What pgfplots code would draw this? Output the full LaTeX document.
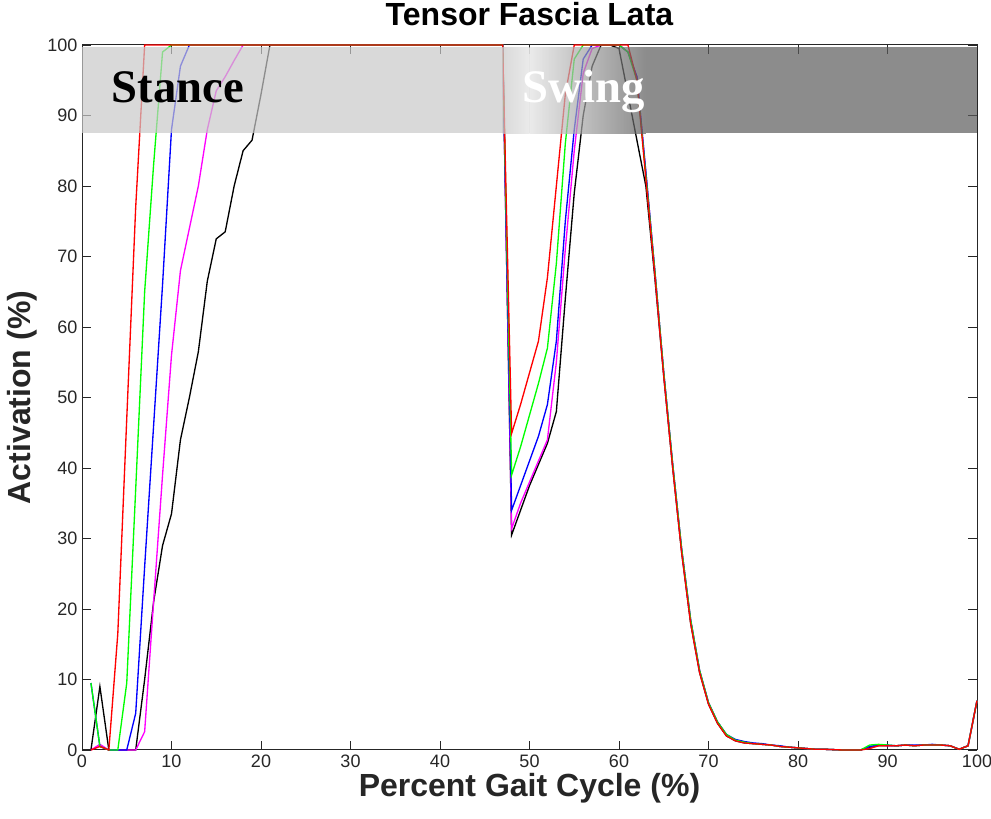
\documentclass[border=0pt]{standalone}
\usepackage{pgfplots}
\pgfplotsset{compat=1.18}
\usepackage{pgfplotstable}
\usepackage{fontspec}
\setmainfont{Liberation Sans}
\newfontfamily\timesfont{Liberation Serif}

% activation per series: red, green, blue, magenta, black
\pgfplotstableread{
x   r     g     b     m     k
1   0     9.5   9.5   0     0
2   0.5   0.5   0.5   0.8   9
3   0     0     0     0     0
4   16.5  0     0     0     0
5   47    9.5   0     0     0
6   77    37    5.2   0     0
7   100   65    26    2.6   10
8   100   83    46    21    21
9   100   99    66    39    29
10  100   100   88    56    33.5
11  100   100   97    68    44
12  100   100   100   74    50
13  100   100   100   80    56.5
14  100   100   100   88    66.5
15  100   100   100   93.5  72.5
16  100   100   100   95.5  73.5
17  100   100   100   97.8  80
18  100   100   100   100   85
19  100   100   100   100   86.5
20  100   100   100   100   93
21  100   100   100   100   100
22  100   100   100   100   100
23  100   100   100   100   100
24  100   100   100   100   100
25  100   100   100   100   100
26  100   100   100   100   100
27  100   100   100   100   100
28  100   100   100   100   100
29  100   100   100   100   100
30  100   100   100   100   100
31  100   100   100   100   100
32  100   100   100   100   100
33  100   100   100   100   100
34  100   100   100   100   100
35  100   100   100   100   100
36  100   100   100   100   100
37  100   100   100   100   100
38  100   100   100   100   100
39  100   100   100   100   100
40  100   100   100   100   100
41  100   100   100   100   100
42  100   100   100   100   100
43  100   100   100   100   100
44  100   100   100   100   100
45  100   100   100   100   100
46  100   100   100   100   100
47  100   100   100   100   100
48  44.9  39    34    31.4  30.5
49  49    43    37.5  35    34
50  53.5  47.5  41    38    37.5
51  58    52    44.5  41    40.5
52  67    57    49    44    43.5
53  80    69    58    55    48
54  93    86    75    71    64
55  100   98    88    85    79
56  100   100   98    96    90
57  100   100   100   99.5  97
58  100   100   100   100   100
59  100   100   100   100   100
60  100   100   100   100   99.5
61  100   99    99    99    93
62  95    95    95.5  95.5  86.5
63  81    81.5  82    82    80
64  67.5  68    68    68    67
65  53    53.5  53.5  53.5  53
66  40    40.5  40.5  40.5  40
67  28    28.5  28.5  28.5  28
68  18    18.5  18.5  18.5  18
69  11    11.3  11.3  11.3  11
70  6.5   6.7   6.7   6.7   6.5
71  3.8   4     4     4     3.8
72  2     2.2   2.2   2.2   2
73  1.3   1.4   1.5   1.4   1.3
74  1     1.1   1.2   1.1   1
75  0.9   0.9   1     0.9   0.9
76  0.8   0.8   0.9   0.8   0.8
77  0.7   0.7   0.7   0.7   0.7
78  0.5   0.5   0.6   0.5   0.5
79  0.4   0.4   0.4   0.4   0.4
80  0.3   0.3   0.3   0.3   0.3
81  0.2   0.2   0.2   0.2   0.2
82  0.1   0.1   0.1   0.1   0.1
83  0.1   0.1   0.1   0.1   0.1
84  0.05  0.05  0.05  0.05  0.05
85  0     0     0     0     0
86  0     0     0     0     0
87  0     0     0     0     0
88  0.2   0.7   0.5   0.5   0.4
89  0.6   0.8   0.7   0.7   0.6
90  0.6   0.7   0.7   0.6   0.6
91  0.6   0.6   0.6   0.6   0.6
92  0.7   0.7   0.7   0.7   0.7
93  0.6   0.6   0.7   0.6   0.6
94  0.7   0.7   0.7   0.7   0.7
95  0.7   0.7   0.8   0.7   0.7
96  0.7   0.7   0.7   0.7   0.7
97  0.6   0.6   0.6   0.6   0.6
98  0.1   0.1   0.1   0.1   0.1
99  0.6   0.6   0.6   0.6   0.6
100 7     7     7     7     7
}\tfl

\definecolor{axgray}{RGB}{38,38,38}
\definecolor{bandlight}{RGB}{201,201,201}
\definecolor{bandwhite}{RGB}{226,226,226}
\definecolor{banddark}{RGB}{91,91,91}

\begin{document}
\begin{tikzpicture}
\begin{axis}[
    scale only axis,
    width=671.25pt, height=528.75pt,
    xmin=0, xmax=100, ymin=0, ymax=100,
    xtick={0,10,...,100},
    ytick={0,10,...,100},
    tick align=inside,
    major tick length=6.75pt,
    axis line style={draw=axgray, line width=0.75pt},
    every tick/.style={axgray, line width=0.6pt},
    ticklabel style={font=\fontsize{13.5}{16}\selectfont, text=axgray},
    /pgf/number format/assume math mode=true,
    clip=false,
    every axis title shift=0pt,
    title={Tensor Fascia Lata},
    title style={font=\fontsize{24}{28}\selectfont\bfseries,
        at={(axis description cs:0.5,1.028)}, anchor=base},
    xlabel={Percent Gait Cycle (\%)},
    xlabel style={font=\fontsize{24}{28}\selectfont\bfseries, text=axgray,
        at={(axis description cs:0.5,-0.0662)}, anchor=base},
    ylabel={Activation (\%)},
    ylabel style={font=\fontsize{24}{28}\selectfont\bfseries, text=axgray,
        at={(axis description cs:-0.058,0.5)}, anchor=base},
    every axis plot/.append style={line width=1pt},
]
\addplot[black]            table[x=x,y=k] {\tfl};
\addplot[color={rgb,255:red,255;green,0;blue,255}] table[x=x,y=m] {\tfl};
\addplot[color={rgb,255:red,0;green,0;blue,255}]   table[x=x,y=b] {\tfl};
\addplot[color={rgb,255:red,0;green,255;blue,0}]   table[x=x,y=g] {\tfl};
\addplot[color={rgb,255:red,255;green,0;blue,0}]   table[x=x,y=r] {\tfl};

% phase band laid over the curves
\fill[bandlight, fill opacity=0.7] (axis cs:0,87.5) rectangle (axis cs:47,99.7);
\shade[left color=bandlight, right color=bandwhite, fill opacity=0.7]
    (axis cs:47,87.5) rectangle (axis cs:50,99.7);
\shade[left color=bandwhite, right color=banddark, fill opacity=0.7]
    (axis cs:50,87.5) rectangle (axis cs:63,99.7);
\fill[banddark, fill opacity=0.7] (axis cs:63,87.5) rectangle (axis cs:100,99.7);

\node[anchor=base west, font=\timesfont\bfseries\fontsize{35}{40}\selectfont]
    at (axis cs:2.8,91.8) {Stance};
\node[anchor=base west, text=white, font=\timesfont\bfseries\fontsize{35}{40}\selectfont]
    at (axis cs:48.7,91.8) {Swing};
\end{axis}
\pgfresetboundingbox
\path ([shift={(-61.5pt,-51.75pt)}]current axis.south west)
    rectangle ([shift={(10.5pt,33.75pt)}]current axis.north east);
\end{tikzpicture}
\end{document}
